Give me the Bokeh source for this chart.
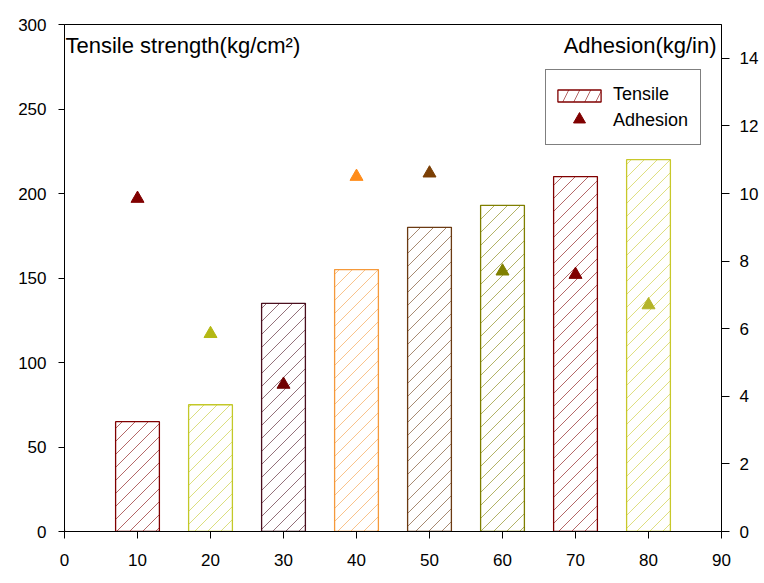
from bokeh.plotting import figure
from bokeh.models import Range1d, LinearAxis, FixedTicker, Legend, LegendItem, Label, ColumnDataSource
from bokeh.embed import file_html
from bokeh.resources import INLINE
import math

x_vals = [10, 20, 30, 40, 50, 60, 70, 80]
tensile = [65, 75, 135, 155, 180, 193, 210, 220]
adhesion = [9.85, 5.85, 4.35, 10.5, 10.6, 7.7, 7.6, 6.7]
bar_colors = ["#800000", "#c3c828", "#4a0f1e", "#f5993a", "#6b3a12", "#7f7f00", "#800000", "#c8c82a"]
tri_colors = ["#800000", "#b4b814", "#700000", "#ff8c1a", "#7b3f05", "#808000", "#800000", "#b4b428"]
left_ticks = [0, 50, 100, 150, 200, 250, 300]
right_ticks = [0, 2, 4, 6, 8, 10, 12, 14]
x_ticks = [0, 10, 20, 30, 40, 50, 60, 70, 80, 90]

FONT = "Liberation Sans"
W, H = 764, 583
BL, BR, BT, BB = 64, 43, 24, 52
X0, X1, Y0, Y1 = 0, 90, 0, 300
BAR_W = 6
HATCH_STEP = 13  # px between hatch lines (horizontal)

p = figure(width=W, height=H, output_backend="svg", toolbar_location=None,
           x_range=Range1d(X0, X1), y_range=Range1d(Y0, Y1),
           min_border_left=BL, min_border_right=BR, min_border_top=BT, min_border_bottom=BB)
p.extra_y_ranges = {"adh": Range1d(0, 15)}
p.xgrid.visible = False
p.ygrid.visible = False
p.outline_line_color = "black"
p.outline_line_width = 1
p.background_fill_color = "white"
p.border_fill_color = "white"

def style_axis(ax):
    ax.axis_line_color = "black"
    ax.major_tick_line_color = "black"
    ax.major_tick_out = 7
    ax.major_tick_in = 0
    ax.minor_tick_line_color = None
    ax.major_label_text_font = FONT
    ax.major_label_text_font_size = "17px"
    ax.major_label_text_color = "black"

p.xaxis.ticker = FixedTicker(ticks=x_ticks)
p.yaxis.ticker = FixedTicker(ticks=left_ticks)
style_axis(p.xaxis[0])
style_axis(p.yaxis[0])
p.yaxis[0].major_tick_out = 6
p.yaxis[0].major_label_standoff = 12
p.xaxis[0].major_label_standoff = 15

ax_r = LinearAxis(y_range_name="adh", ticker=FixedTicker(ticks=right_ticks))
style_axis(ax_r)
ax_r.major_tick_out = 8
ax_r.major_label_standoff = 10
p.add_layout(ax_r, "right")

# 45-degree hatch lines inside each bar (derived from the bar data)
kx = (W - BL - BR) / (X1 - X0)
ky = (H - BT - BB) / (Y1 - Y0)
hx0, hy0, hx1, hy1, hc = [], [], [], [], []
for xv, tv, col in zip(x_vals, tensile, bar_colors):
    u0, u1 = (xv - BAR_W / 2 - X0) * kx, (xv + BAR_W / 2 - X0) * kx
    v1 = (tv - Y0) * ky
    n0 = math.ceil((u0 - v1) / HATCH_STEP)
    n1 = math.floor(u1 / HATCH_STEP)
    for n in range(n0, n1 + 1):
        c = n * HATCH_STEP
        va = max(0.0, u0 - c)
        vb = min(v1, u1 - c)
        if vb - va < 0.5:
            continue
        hx0.append((va + c) / kx + X0); hy0.append(va / ky + Y0)
        hx1.append((vb + c) / kx + X0); hy1.append(vb / ky + Y0)
        hc.append(col)

p.segment(x0=hx0, y0=hy0, x1=hx1, y1=hy1, line_color=hc, line_alpha=0.6, line_width=1)

src = ColumnDataSource(dict(x=x_vals, top=tensile, adh=adhesion, bc=bar_colors, tc=tri_colors))

bars = p.vbar(x="x", top="top", width=BAR_W, bottom=0, source=src,
              fill_color=None, line_color="bc", line_width=1.3)

tris = p.scatter(x="x", y="adh", source=src, y_range_name="adh", marker="triangle",
                 size=13, fill_color="tc", line_color="tc")

# legend proxies
leg_bar = p.vbar(x=[-100], top=[1], width=1, fill_color="white", line_color="#800000",
                 hatch_pattern="/", hatch_color="#800000",
                 hatch_alpha=0.6, hatch_scale=22, line_width=1.3)
leg_tri = p.scatter(x=[-100], y=[1], marker="triangle", size=13,
                    fill_color="#800000", line_color="#800000")
leg_none = p.scatter(x=[-100], y=[1], marker="circle", size=1, fill_alpha=0, line_alpha=0)

main_leg = Legend(items=[LegendItem(label="Tensile", renderers=[leg_none]),
                         LegendItem(label="Adhesion", renderers=[leg_none])],
                  location=(481, 386), orientation="vertical",
                  border_line_color="black", border_line_width=1,
                  background_fill_color="white", background_fill_alpha=1,
                  label_text_font=FONT, label_text_font_size="18px", label_text_color="black",
                  glyph_width=43, glyph_height=24, label_height=24, label_width=68,
                  label_standoff=12, padding=12, spacing=2, margin=0)
p.add_layout(main_leg, "center")

sw_leg = Legend(items=[LegendItem(label=" ", renderers=[leg_bar])],
                location=(487.6, 428.5), orientation="vertical",
                border_line_color=None, background_fill_alpha=0,
                label_text_font_size="1px",
                glyph_width=54, glyph_height=15, label_height=15, label_width=0,
                label_standoff=0, padding=0, spacing=0, margin=0)
p.add_layout(sw_leg, "center")

tr_leg = Legend(items=[LegendItem(label=" ", renderers=[leg_tri])],
                location=(499.5, 397), orientation="vertical",
                border_line_color=None, background_fill_alpha=0,
                label_text_font_size="1px",
                glyph_width=30, glyph_height=30, label_height=30, label_width=0,
                label_standoff=0, padding=0, spacing=0, margin=0)
p.add_layout(tr_leg, "center")

p.add_layout(Label(x=1, y=486, x_units="screen", y_units="screen",
                   text="Tensile strength(kg/cm²)", text_font=FONT, text_font_size="22px",
                   text_color="black", text_baseline="middle", text_align="left"))
p.add_layout(Label(x=652, y=486, x_units="screen", y_units="screen",
                   text="Adhesion(kg/in)", text_font=FONT, text_font_size="22px",
                   text_color="black", text_baseline="middle", text_align="right"))

open("out.html", "w").write(file_html(p, INLINE))
